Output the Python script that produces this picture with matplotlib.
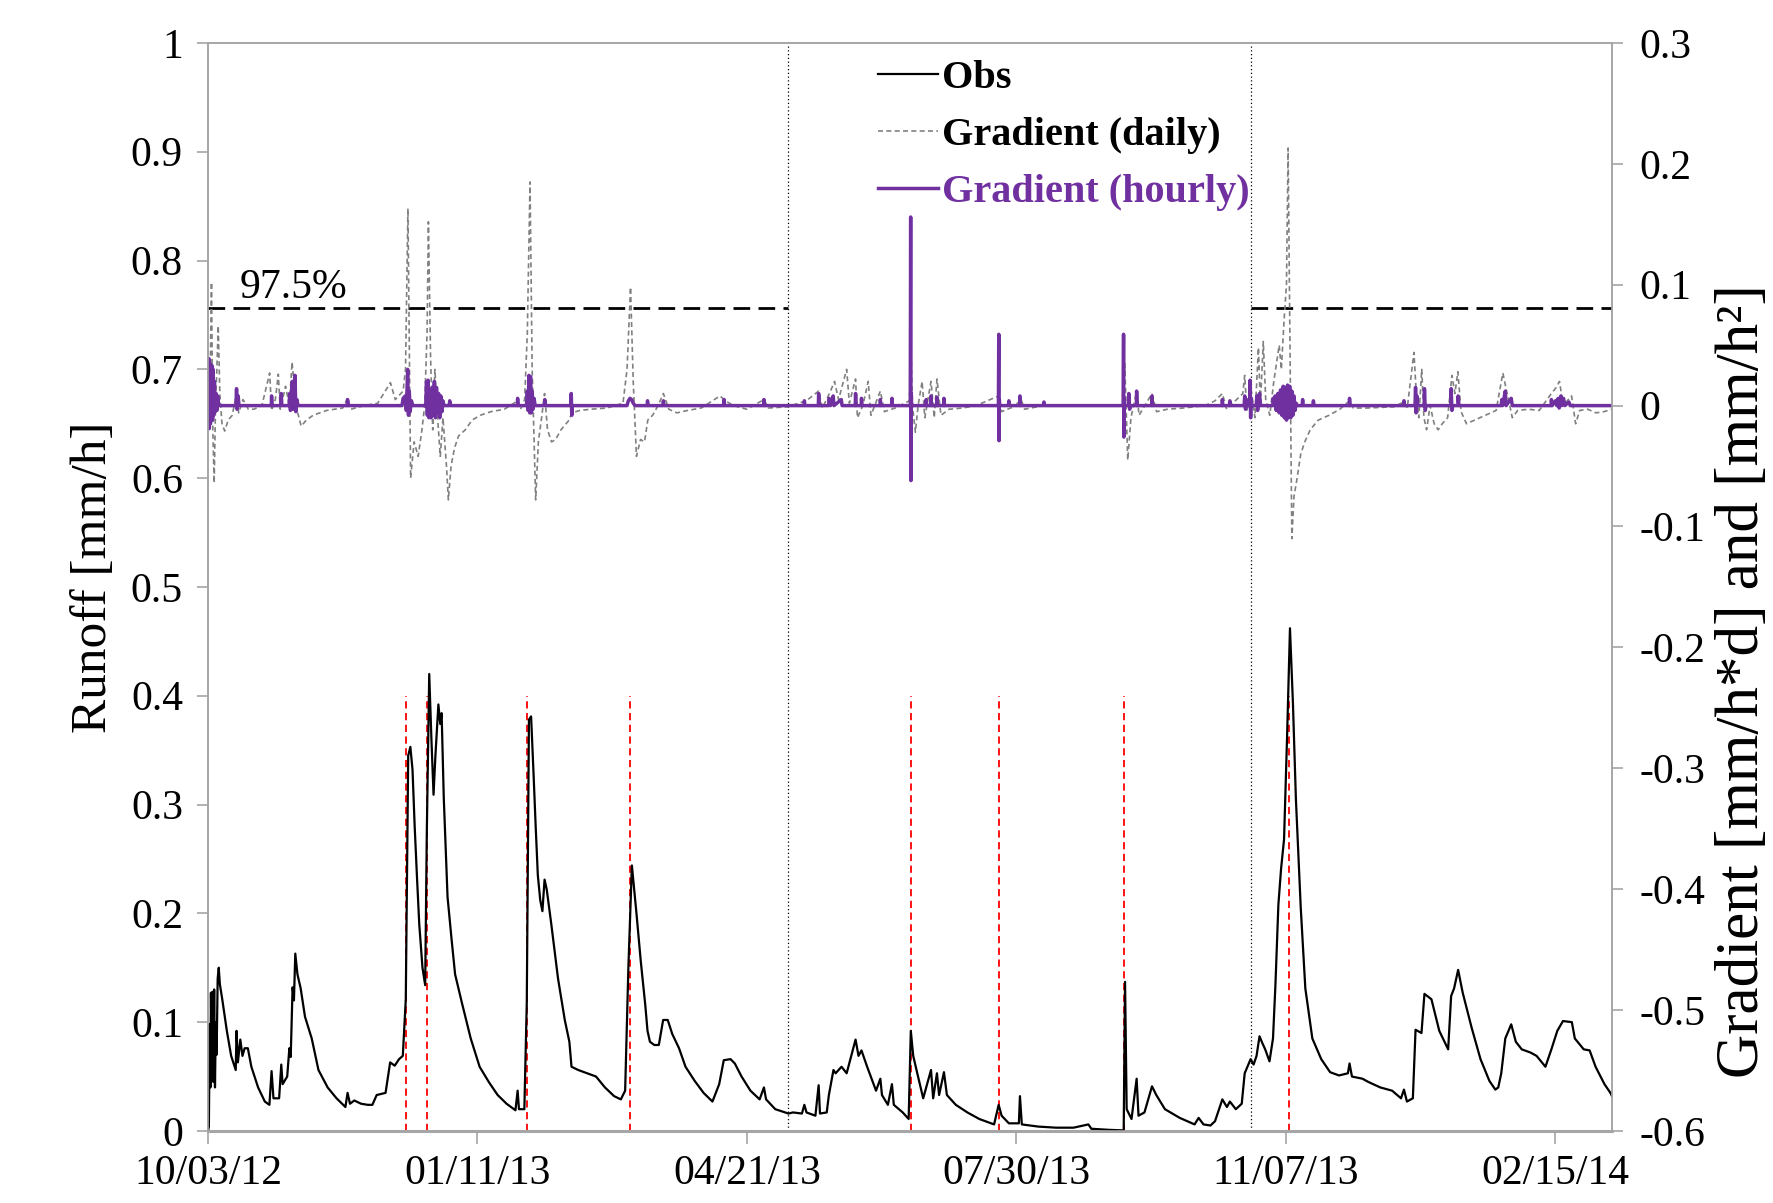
import matplotlib
matplotlib.use('Agg')
import matplotlib.pyplot as plt
import matplotlib.dates as mdates
from matplotlib.ticker import FuncFormatter, MultipleLocator
from datetime import datetime
import numpy as np

plt.rcParams['font.family'] = ['Liberation Serif', 'DejaVu Serif']
plt.rcParams['axes.unicode_minus'] = False

start = datetime(2012, 10, 3)
x_end = 521  # days shown on the x axis

# observed runoff [mm/h], days since 10/03/12
obs_day = [0, 0.33, 0.66, 0.9, 1.1, 1.4, 1.7, 2.0, 2.3, 2.6, 2.9, 3.2, 3.6, 4.0, 4.4, 5.3,
           7.0, 8.6, 10.3, 10.6, 11.1, 12.0, 12.8, 13.6, 14.8, 16.1, 18.6, 21.1, 22.8, 23.6,
           24.3, 26.4, 27.2, 27.7, 29.4, 30.2, 30.7, 31.4, 31.9, 32.4, 33.2, 34.4, 36.0, 38.5,
           41.0, 44.4, 47.7, 51.0, 51.8, 52.7, 54.3, 56.8, 59.3, 61.0, 62.6, 65.9, 67.6, 69.3,
           70.9, 72.3, 73.4, 74.3, 75.1, 75.9, 76.7, 77.6, 78.4, 79.6, 80.6, 81.2, 82.1, 82.9,
           83.7, 84.4, 85.5, 86.2, 86.7, 87.5, 88.9, 90.4, 91.7, 94.2, 97.5, 100.8, 104.2,
           107.5, 110.8, 114.1, 114.9, 115.4, 117.4, 118.3, 119.1, 119.9, 120.8, 121.6, 122.4,
           123.3, 124.1, 124.9, 125.7, 127.4, 129.9, 132.4, 134.1, 134.9, 137.4, 140.7, 144.0,
           147.3, 150.7, 153.2, 154.8, 156.0, 157.3, 159.0, 160.6, 162.3, 163.1, 164.0, 165.6,
           167.3, 168.9, 170.6, 172.3, 174.8, 177.2, 180.6, 183.9, 187.2, 189.7, 191.4, 193.9,
           195.5, 198.0, 201.3, 204.7, 206.3, 207.1, 210.5, 215.4, 217.1, 220.4, 221.3, 222.1,
           225.4, 226.6, 227.1, 229.6, 230.4, 232.1, 232.9, 235.1, 237.0,
           240.3, 241.4, 242.5, 244.6, 247.9, 249.5, 250.1, 252.3, 253.8, 254.5, 257.8, 260.0,
           260.8, 261.7, 263.2, 265.4, 266.5, 268.3, 269.1, 270.5, 271.3, 273.1, 274.2, 277.5,
           281.8, 286.2, 291.7, 293.4, 294.5, 297.2, 300.9, 301.3, 302.0, 308.1, 314.7, 321.2,
           326.7, 327.8, 334.4, 339.8, 340.3, 340.9, 342.7, 344.6, 345.3, 347.5, 350.3, 351.9,
           355.1, 360.6, 366.1, 367.6, 369.4, 372.0, 373.7, 376.4, 378.1, 379.2, 381.4, 383.6,
           384.7, 386.9, 388.0, 389.1, 390.2, 391.2, 392.3, 393.9, 395.2, 396.1, 397.2, 398.2,
           399.3, 400.4, 401.5, 402.6, 403.7, 405.5, 407.2, 409.8, 413.1, 416.4, 419.7, 423.0,
           423.6, 424.5, 428.4, 430.6, 435.0, 439.4, 442.7, 443.8, 444.9, 447.1, 448.1, 450.3,
           451.4, 454.0, 456.9, 460.2, 461.3, 462.4, 463.9, 465.6, 468.9, 472.2, 475.5, 477.7,
           478.8, 479.9, 481.4, 483.6, 485.3, 487.5, 490.8, 493.0, 496.3, 498.5, 500.7, 502.8,
           506.1, 507.2, 510.5, 512.7, 514.9, 518.2, 520.4, 521.0]
obs_val = [0.0, 0.004, 0.098, 0.04, 0.127, 0.05, 0.128, 0.045, 0.13, 0.04, 0.1, 0.07, 0.14, 0.15, 0.135, 0.121,
           0.092, 0.069, 0.056, 0.092, 0.063, 0.084, 0.069, 0.076, 0.076, 0.059, 0.040, 0.027, 0.024, 0.055,
           0.03, 0.03, 0.061, 0.043, 0.05, 0.076, 0.068, 0.132, 0.12, 0.163, 0.144, 0.131, 0.105, 0.085,
           0.056, 0.040, 0.030, 0.022, 0.035, 0.025, 0.028, 0.025, 0.024, 0.024, 0.033, 0.035, 0.063, 0.060,
           0.066, 0.069, 0.121, 0.345, 0.353, 0.332, 0.28, 0.231, 0.19, 0.15, 0.134, 0.274, 0.42, 0.361,
           0.309, 0.345, 0.392, 0.374, 0.384, 0.306, 0.215, 0.176, 0.144, 0.118, 0.085, 0.059, 0.045,
           0.033, 0.025, 0.019, 0.037, 0.02, 0.02, 0.118, 0.378, 0.381, 0.329, 0.28, 0.235,
           0.212, 0.202, 0.231, 0.222, 0.19, 0.14, 0.102, 0.082, 0.059, 0.056, 0.053, 0.05,
           0.04, 0.032, 0.029, 0.037, 0.15, 0.244, 0.2, 0.156, 0.115, 0.092, 0.082, 0.079,
           0.079, 0.102, 0.102, 0.089, 0.076, 0.059, 0.046, 0.035, 0.027, 0.043, 0.065, 0.066,
           0.062, 0.05, 0.037, 0.029, 0.04, 0.029, 0.02, 0.016, 0.017, 0.016, 0.024, 0.017,
           0.014, 0.042, 0.016, 0.017, 0.033, 0.056, 0.053, 0.059, 0.053,
           0.084, 0.069, 0.074, 0.059, 0.037, 0.048, 0.033, 0.024, 0.043, 0.024, 0.017, 0.011,
           0.092, 0.069, 0.053, 0.03, 0.04, 0.056, 0.03, 0.053, 0.033, 0.054, 0.033, 0.024,
           0.017, 0.011, 0.006, 0.024, 0.014, 0.007, 0.007, 0.032, 0.006, 0.004, 0.003, 0.003,
           0.006, 0.002, 0.001, 0.0005, 0.137, 0.02, 0.011, 0.048, 0.014, 0.017, 0.041, 0.033,
           0.02, 0.012, 0.006, 0.012, 0.006, 0.005, 0.009, 0.029, 0.022, 0.027, 0.02, 0.025,
           0.053, 0.066, 0.061, 0.069, 0.087, 0.081, 0.075, 0.064, 0.085, 0.134, 0.208, 0.241,
           0.268, 0.36, 0.462, 0.393, 0.305, 0.205, 0.131, 0.085, 0.066, 0.054, 0.051, 0.053,
           0.062, 0.05, 0.048, 0.045, 0.04, 0.037, 0.03, 0.038, 0.027, 0.03, 0.093, 0.09,
           0.126, 0.121, 0.092, 0.075, 0.124, 0.131, 0.148, 0.127, 0.095, 0.066, 0.046, 0.038,
           0.04, 0.053, 0.085, 0.098, 0.082, 0.075, 0.072, 0.069, 0.059, 0.075, 0.092, 0.101,
           0.10, 0.085, 0.075, 0.074, 0.059, 0.043, 0.035, 0.032]

# daily gradient [mm/h*d]
daily_day = [0, 0.8, 1.3, 1.8, 2.3, 2.8, 3.3, 3.8, 4.4, 5.2, 6.2, 7.5, 9, 10.6, 11.4, 13, 15, 17, 20,
             22.9, 23.6, 25, 26.1, 26.8, 28.8, 30.2, 31.2, 32.3, 33.3, 34.6, 36.5, 39, 44, 50, 51.8,
             53, 58, 63, 67.7, 69.5, 72.4, 73.3, 74.2, 74.7, 75.2, 76.5, 78, 79.4, 80.4, 81.3, 81.8,
             82.6, 83.4, 84.2, 85.2, 86.2, 87.2, 88.5, 89.2, 90.2, 91.5, 93, 95.5, 98, 101, 105, 110,
             114.9, 116, 117.5, 118.5, 119.5, 120.3, 121.6, 122.6, 123.8, 124.9, 126, 127.5, 129,
             131, 134, 135, 138, 142, 148, 154, 155.5, 156.8, 157.8, 159, 160.5, 162, 163.2, 165,
             167, 169, 171, 174, 178, 183, 190, 192, 195, 200, 206.3, 208, 215, 222, 226.6, 228,
             231, 232.5, 234, 237, 238, 240.3, 241, 243, 245, 246, 249.5, 251, 255, 260.3, 260.8,
             261.5, 262.5, 263.5, 265, 266, 268.3, 269.5, 270.5, 272, 275, 280, 285, 293.4, 294.5,
             300, 301.3, 303, 310, 320, 330, 339.6, 340.2, 341.3, 342.5, 344.6, 345.5, 350.3, 352,
             356, 362, 370, 373.7, 376.4, 378, 384, 384.7, 385.5, 387, 388.5, 389.8, 390.5, 391.6,
             392.5, 394, 395.5, 396.5, 397.5, 398.3, 399.3, 400.2, 400.8, 401.5, 402.2, 403, 404,
             405.5, 407, 409, 412, 416, 420, 423.6, 425, 430, 440, 443.8, 445, 447.5, 448.5, 449.3,
             450.4, 451.2, 452.2, 453.5, 455, 456.5, 458, 460, 461.6, 462.7, 463.8, 465, 467, 470,
             474, 478, 480.5, 481.6, 482.6, 484, 486, 490, 494, 498.5, 500.3, 501.5, 502.5, 504,
             506, 507.5, 509, 512, 515, 518, 521]
daily_val = [0.0, 0.02, 0.102, -0.02, -0.064, 0.0, 0.03, 0.066, 0.01, -0.015, -0.021, -0.012, -0.008,
             0.01, -0.006, 0.005, -0.003, -0.003, 0.0, 0.027, -0.004, 0.005, 0.026, -0.003, 0.016, 0.0,
             0.036, 0.01, -0.006, -0.017, -0.012, -0.008, -0.004, -0.002, 0.006, -0.003, 0.0, 0.002,
             0.019, 0.005, 0.012, 0.03, 0.163, 0.05, -0.06, -0.03, -0.042, -0.02, 0.0, 0.06, 0.152,
             0.04, -0.02, 0.03, -0.01, -0.042, -0.01, -0.05, -0.078, -0.05, -0.035, -0.025, -0.02,
             -0.012, -0.008, -0.005, -0.003, 0.004, -0.003, 0.005, 0.06, 0.185, 0.03, -0.078, -0.03,
             -0.01, 0.01, -0.02, -0.03, -0.028, -0.02, -0.012, -0.006, -0.004, -0.003, -0.002, 0.002,
             0.03, 0.098, 0.02, -0.042, -0.028, -0.03, -0.012, -0.008, 0.0, 0.01, -0.003, -0.006,
             -0.004, -0.002, 0.008, 0.004, 0.0, -0.003, 0.005, -0.002, -0.001, 0.004, 0.012, -0.002,
             0.012, 0.02, 0.005, 0.03, 0.002, 0.022, -0.01, 0.0, 0.02, -0.008, 0.012, -0.005, -0.002,
             0.004, 0.05, -0.002, -0.022, 0.0, 0.02, -0.01, 0.02, -0.01, 0.022, -0.008, -0.003,
             -0.002, 0.0, 0.008, -0.005, 0.0, 0.008, -0.003, 0.0, 0.0, 0.0, 0.0, 0.035, -0.045,
             -0.01, 0.012, -0.008, 0.01, -0.005, -0.003, -0.002, 0.0, 0.004, 0.01, -0.003, 0.01,
             0.025, -0.005, 0.015, -0.01, 0.048, 0.0, 0.053, 0.005, -0.008, 0.02, 0.035, 0.05, 0.03,
             0.07, 0.10, 0.213, 0.05, -0.11, -0.075, -0.062, -0.04, -0.03, -0.02, -0.012, -0.008,
             -0.003, 0.004, -0.002, -0.002, -0.001, 0.003, -0.002, 0.044, 0.005, -0.01, 0.03, -0.01,
             -0.02, 0.0, -0.015, -0.02, -0.015, -0.01, 0.025, 0.01, 0.028, -0.005, -0.015, -0.012,
             -0.008, -0.004, 0.027, 0.015, 0.005, -0.01, -0.004, -0.003, -0.004, 0.01, 0.015, 0.02,
             0.006, 0.003, 0.008, -0.015, -0.004, -0.003, -0.006, -0.005, -0.003]

# hourly gradient [mm/h^2]
hourly_day = [0, 0.3, 0.5, 0.7, 0.9, 1.1, 1.3, 1.5, 1.7, 1.9, 2.1, 2.4, 2.7, 3.0, 3.3, 3.6, 4.0,
              10.4, 10.6, 10.8, 11.2, 11.5, 23.5, 23.6, 23.8, 27, 27.2, 27.4, 30.1, 30.3, 30.6,
              31.3, 31.6, 32.3, 32.6, 33, 33.4, 51.7, 51.8, 52, 72, 72.4, 73.2, 73.6, 74.1, 74.4,
              74.7, 75.0, 75.5, 76, 80.8, 81.1, 81.4, 81.7, 82.0, 82.4, 82.8, 83.2, 83.6, 84.0,
              84.4, 84.8, 85.2, 85.6, 86.0, 86.4, 86.8, 87.2, 87.6, 89.5, 89.7, 90, 114.8, 114.9,
              115.1, 118.2, 118.5, 118.8, 119.1, 119.4, 119.7, 120.0, 120.3, 120.6, 121, 121.4,
              124.8, 125, 125.3, 134.6, 134.8, 135, 135.2, 155.5, 156, 156.6, 157.2, 157.8, 158.5,
              163, 163.1, 163.3, 168.8, 169, 169.2, 191.3, 191.5, 191.7, 206.2, 206.3, 206.5,
              221.2, 221.3, 221.5, 226.5, 226.6, 226.8, 230.3, 230.5, 231, 232, 232.3, 235, 235.3,
              240.2, 240.3, 240.5, 242.4, 242.5, 242.7, 249.4, 249.5, 249.7, 253.7, 253.8, 254,
              260.6, 260.75, 260.85, 260.95, 261.1, 266.4, 266.5, 266.7, 268.2, 268.3, 268.5,
              270.4, 270.5, 270.7, 273, 273.1, 273.3, 293.3, 293.45, 293.55, 293.65, 293.8, 297,
              297.2, 297.4, 301.2, 301.3, 301.5, 310, 310.2, 310.4, 339.6, 339.75, 339.85, 339.95,
              340.1, 341.5, 341.7, 342, 342.3, 344.5, 344.6, 344.8, 350.2, 350.3, 350.5, 376.3,
              376.4, 376.6, 379, 379.2, 379.4, 384.5, 384.7, 385, 385.4, 385.8, 386.5, 386.7,
              386.9, 387.1, 387.4, 389, 389.2, 389.5, 390.2, 390.6, 395.1, 395.3, 395.6, 396,
              396.4, 397, 397.5, 398, 398.5, 399, 399.4, 399.8, 400.2, 400.6, 401, 401.4, 401.8,
              402.2, 402.6, 403, 403.4, 403.8, 404.2, 406, 406.2, 406.4, 410, 410.2, 410.4, 423.5,
              423.6, 423.8, 443.7, 443.8, 444, 447.9, 448.1, 448.3, 448.6, 449, 451.3, 451.4,
              451.7, 452, 461.2, 461.3, 461.6, 461.9, 463.8, 463.9, 464.2, 479.9, 480.1, 480.4,
              481.4, 481.7, 483.6, 484, 498.4, 498.5, 498.8, 500, 500.5, 501, 501.4, 502, 502.4,
              503, 503.5, 505, 505.5, 521]
hourly_val = [0.0, 0.039, -0.019, 0.035, -0.015, 0.034, -0.01, 0.033, -0.012, 0.03, -0.008, 0.02,
              -0.005, 0.01, -0.004, 0.008, 0.0, 0.0, 0.014, -0.003, 0.008, 0.0, 0.0, 0.008, 0.0,
              0.0, 0.01, 0.0, 0.0, 0.01, -0.004, 0.02, -0.003, 0.025, -0.005, 0.005, 0.0, 0.0,
              0.005, 0.0, 0.0, 0.006, 0.008, -0.004, 0.03, -0.008, 0.012, -0.005, 0.004, 0.0, 0.0,
              0.02, -0.008, 0.021, -0.01, 0.012, -0.01, 0.015, -0.008, 0.02, -0.01, 0.015, -0.006,
              0.01, -0.01, 0.008, -0.005, 0.004, 0.0, 0.0, 0.004, 0.0, 0.0, 0.006, 0.0, 0.0, 0.012,
              -0.004, 0.025, -0.006, 0.024, -0.006, 0.012, -0.003, 0.006, 0.0, 0.0, 0.005, 0.0, 0.0,
              0.01, -0.008, 0.0, 0.0, 0.004, 0.006, 0.005, 0.002, 0.0, 0.0, 0.004, 0.0, 0.0, 0.004,
              0.0, 0.0, 0.005, 0.0, 0.0, 0.005, 0.0, 0.0, 0.004, 0.0, 0.0, 0.01, 0.0, 0.0, 0.006,
              0.0, 0.008, 0.0, 0.005, 0.0, 0.0, 0.01, 0.0, 0.0, 0.006, 0.0, 0.0, 0.005, 0.0, 0.0,
              0.006, 0.0, 0.0, 0.156, -0.062, 0.01, 0.0, 0.0, 0.005, 0.0, 0.0, 0.008, 0.0, 0.0,
              0.007, 0.0, 0.0, 0.006, 0.0, 0.0, 0.059, -0.029, 0.005, 0.0, 0.0, 0.004, 0.0, 0.0,
              0.008, 0.0, 0.0, 0.003, 0.0, 0.0, 0.059, -0.026, 0.006, 0.0, 0.0, 0.01, -0.003, 0.0,
              0.0, 0.012, 0.0, 0.0, 0.008, 0.0, 0.0, 0.005, 0.0, 0.0, 0.004, 0.0, 0.0, 0.008,
              -0.003, 0.005, 0.0, 0.0, 0.021, -0.01, 0.006, 0.0, 0.0, 0.008, -0.004, 0.01, 0.0,
              0.0, 0.006, 0.0, 0.008, -0.004, 0.01, -0.006, 0.013, -0.008, 0.016, -0.01, 0.015,
              -0.012, 0.017, -0.01, 0.016, -0.01, 0.012, -0.008, 0.008, -0.004, 0.002, 0.0, 0.0,
              0.005, 0.0, 0.0, 0.004, 0.0, 0.0, 0.006, 0.0, 0.0, 0.004, 0.0, 0.0, 0.015, -0.006,
              0.008, 0.0, 0.0, 0.014, -0.004, 0.0, 0.0, 0.014, -0.004, 0.0, 0.0, 0.008, 0.0, 0.0,
              0.005, 0.0, 0.012, 0.0, 0.006, 0.0, 0.0, 0.005, 0.0, 0.004, 0.0, 0.006, -0.002,
              0.008, 0.0, 0.006, 0.0, 0.003, 0.0, 0.0]

event_days = [73.6, 81.4, 118.3, 156.6, 260.8, 293.4, 339.8, 401.0]   # red dashed markers
period_days = [215.4, 387.0]                                          # dotted separators
threshold = 0.081                                                      # 97.5% gradient level
threshold_spans = [(0, 215.4), (387.0, 521)]

purple = '#7030A0'
grey_spine = '#A6A6A6'

t0 = mdates.date2num(start)
def to_x(days):
    return t0 + np.asarray(days, dtype=float)

fig = plt.figure(figsize=(17.73, 12.03), dpi=100)
ax = fig.add_axes([0.1173, 0.0599, 0.7919, 0.9044])
ax2 = ax.twinx()

# left axis: observed runoff
ax.vlines(to_x(event_days), 0, 0.4, colors='red', linestyles=(0, (4, 2.5)), linewidth=1.3, zorder=2)
for d in period_days:
    ax.axvline(to_x([d])[0], color='black', linestyle=(0, (1, 2)), linewidth=0.9, zorder=1)
l_obs, = ax.plot(to_x(obs_day), obs_val, color='black', linewidth=1.6, label='Obs', zorder=3)
ax.text(to_x([11.9])[0], 0.766, '97.5%', fontsize=30, ha='left', va='baseline')

# right axis: gradients
for a, b in threshold_spans:
    ax2.hlines(threshold, to_x([a])[0], to_x([b])[0], colors='black',
               linestyles=(0, (6, 3)), linewidth=2)
l_daily, = ax2.plot(to_x(daily_day), daily_val, color='#808080', linewidth=1.2,
                    linestyle=(0, (3, 2)), label='Gradient (daily)')
l_hourly, = ax2.plot(to_x(hourly_day), hourly_val, color=purple, linewidth=2.5,
                     label='Gradient (hourly)')

ax.set_xlim(to_x([0])[0], to_x([x_end])[0])
ax.set_ylim(0, 1)
ax2.set_ylim(-0.6, 0.3)

ax.set_xticks(to_x([0, 100, 200, 300, 400, 500]))
ax.xaxis.set_major_formatter(mdates.DateFormatter('%m/%d/%y'))
ax.yaxis.set_major_locator(MultipleLocator(0.1))
ax2.yaxis.set_major_locator(MultipleLocator(0.1))

def fmt(v, pos):
    if abs(v) < 1e-9:
        return '0'
    if abs(v - round(v)) < 1e-9:
        return '%d' % round(v)
    return '%.1f' % v
ax.yaxis.set_major_formatter(FuncFormatter(fmt))
ax2.yaxis.set_major_formatter(FuncFormatter(fmt))

for a in (ax, ax2):
    for s in a.spines.values():
        s.set_color(grey_spine)
        s.set_linewidth(1.2)
ax.spines['bottom'].set_linewidth(2.2)

ax.tick_params(axis='x', direction='out', length=9, width=1.2, color=grey_spine,
               labelsize=30, pad=8)
ax.tick_params(axis='y', direction='out', length=8, width=1.2, color=grey_spine,
               labelsize=30, pad=10)
ax2.tick_params(axis='y', direction='out', length=8, width=1.2, color=grey_spine,
                labelsize=30, pad=12)

fig.text(0.053, 0.520, 'Runoff [mm/h]', rotation=90, ha='center', va='center', fontsize=37)
fig.text(0.999, 0.434, 'Gradient [mm/h*d] and [mm/h\u00b2]', rotation=90,
         ha='right', va='center', fontsize=44)

leg = ax2.legend(handles=[l_obs, l_daily, l_hourly], loc='upper left',
                 bbox_to_anchor=(878 / 1773, 1 - 60 / 1203), bbox_transform=fig.transFigure,
                 frameon=False, borderpad=0, borderaxespad=0, handlelength=1.5,
                 handletextpad=0.1, labelspacing=0.49,
                 prop={'family': 'Liberation Serif', 'weight': 'bold', 'size': 29})
leg.get_texts()[2].set_color(purple)

fig.savefig('out.png', dpi=100)
